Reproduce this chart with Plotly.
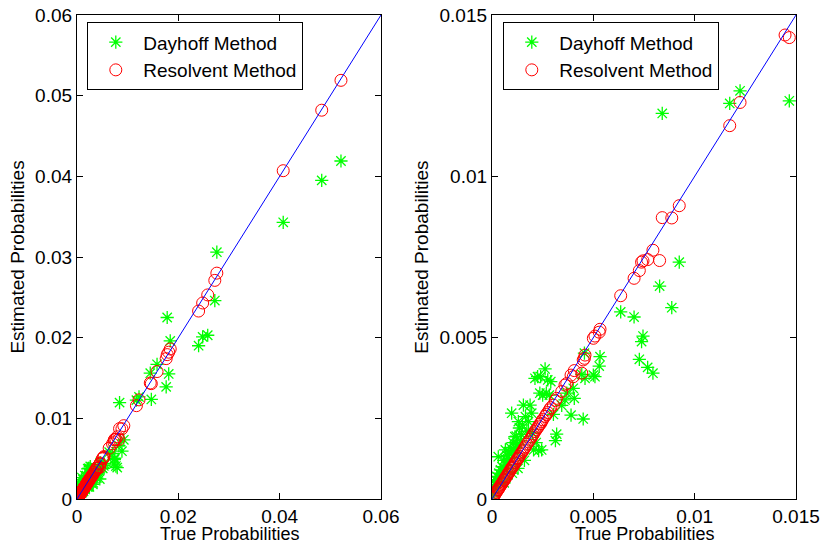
import plotly.graph_objects as go

# true probability, Dayhoff estimate, Resolvent estimate
true_p = [
    0.0521, 0.0483, 0.0407, 0.0276, 0.0272, 0.0258, 0.0248, 0.0240,
    0.0184, 0.0181, 0.0178, 0.0176, 0.0158, 0.01467, 0.01446,
    0.01224, 0.01173,
    0.00924, 0.00887, 0.00840, 0.00827, 0.00794, 0.00768, 0.00745, 0.00738,
    0.00727, 0.00701, 0.00635,
    0.00533, 0.00529, 0.00508, 0.00500, 0.00459, 0.00456, 0.00450, 0.00443,
    0.00406, 0.00401, 0.00390, 0.00369, 0.00360, 0.00344, 0.00319, 0.00313, 0.00303,
    0.00290, 0.00283, 0.00275, 0.00268, 0.00262, 0.00250, 0.00245, 0.00240,
    0.00236, 0.00230, 0.00225, 0.00218, 0.00212, 0.00205, 0.00200,
    0.00196, 0.00188, 0.00180, 0.00172, 0.00165, 0.00160, 0.00155, 0.00150,
    0.00145, 0.00140, 0.00135, 0.00130, 0.00128, 0.00125, 0.00120, 0.00115,
    0.00113, 0.00108, 0.00104, 0.00100, 0.00097, 0.00095, 0.00090, 0.00086,
    0.00082, 0.00078, 0.00074, 0.00070, 0.00066, 0.00062, 0.00060, 0.00058,
    0.00054, 0.00050, 0.00046, 0.00042, 0.00038, 0.00034, 0.00031, 0.00028,
    0.00024, 0.00020, 0.00016, 0.00012, 0.00008, 0.00005, 0.00002,
]
dayhoff_est = [
    0.0419, 0.0395, 0.0343, 0.0306, 0.0246, 0.0203, 0.0201, 0.0190,
    0.0196, 0.0155, 0.0225, 0.0139, 0.0167, 0.01234, 0.0156,
    0.01265, 0.01226,
    0.00734, 0.00593, 0.01195, 0.00660, 0.00390, 0.00408, 0.00505, 0.00488,
    0.00433, 0.00564, 0.00580,
    0.00441, 0.00412, 0.00379, 0.00384, 0.00374, 0.00452, 0.00248, 0.00386,
    0.00312, 0.00343, 0.00260, 0.00328, 0.00307, 0.00290, 0.00201, 0.00181, 0.00262,
    0.00364, 0.00322, 0.00369, 0.00328, 0.00403, 0.00322, 0.00152, 0.00379,
    0.00328, 0.00150, 0.00379, 0.00175, 0.00374, 0.00152, 0.00205,
    0.00266, 0.00291, 0.00240, 0.00210, 0.00255, 0.00120, 0.00291, 0.00230,
    0.00200, 0.00180, 0.00220, 0.00240, 0.00095, 0.00170, 0.00195, 0.00160,
    0.00193, 0.00150, 0.00175, 0.00080, 0.00266, 0.00140, 0.00160, 0.00125,
    0.00145, 0.00115, 0.00135, 0.00105, 0.00152, 0.00095, 0.00050, 0.00120,
    0.00085, 0.00100, 0.00075, 0.00090, 0.00065, 0.00080, 0.00131, 0.00055,
    0.00070, 0.00045, 0.00060, 0.00035, 0.00040, 0.00020, 0.00010,
]
resolvent_est = [
    0.0519, 0.0482, 0.0407, 0.0280, 0.0271, 0.0253, 0.0243, 0.0233,
    0.0186, 0.0182, 0.0179, 0.0174, 0.0158, 0.01430, 0.01438,
    0.01229, 0.01157,
    0.00909, 0.00871, 0.00872, 0.00739, 0.00771, 0.00742, 0.00738, 0.00734,
    0.00708, 0.00684, 0.00630,
    0.00526, 0.00517, 0.00505, 0.00498, 0.00446, 0.00436, 0.00431, 0.00390,
    0.00398, 0.00379, 0.00384, 0.00358, 0.00353, 0.00333, 0.00312, 0.00305, 0.00291,
    0.00283, 0.00276, 0.00268, 0.00262, 0.00256, 0.00246, 0.00240, 0.00234,
    0.00232, 0.00226, 0.00221, 0.00215, 0.00209, 0.00202, 0.00197,
    0.00192, 0.00185, 0.00177, 0.00170, 0.00162, 0.00158, 0.00152, 0.00147,
    0.00143, 0.00138, 0.00133, 0.00128, 0.00126, 0.00123, 0.00118, 0.00114,
    0.00111, 0.00106, 0.00102, 0.00099, 0.00096, 0.00094, 0.00089, 0.00085,
    0.00081, 0.00077, 0.00073, 0.00069, 0.00065, 0.00061, 0.00059, 0.00057,
    0.00053, 0.00049, 0.00045, 0.00042, 0.00037, 0.00034, 0.00030, 0.00028,
    0.00024, 0.00020, 0.00016, 0.00012, 0.00008, 0.00005, 0.00002,
]

left_ticks = [0, 0.01, 0.02, 0.03, 0.04, 0.05, 0.06]
left_ticktext = ["0", "0.01", "0.02", "0.03", "0.04", "0.05", "0.06"]
left_xticks = [0, 0.02, 0.04, 0.06]
left_xticktext = ["0", "0.02", "0.04", "0.06"]
right_ticks = [0, 0.005, 0.01, 0.015]
right_ticktext = ["0", "0.005", "0.01", "0.015"]
left_max = 0.06
right_max = 0.015
x_title = "True Probabilities"
y_title = "Estimated Probabilities"

FONT = "Liberation Sans, Arial, Helvetica, sans-serif"
W, H = 821, 544
fig = go.Figure()

for ax_x, ax_y, mx, leg in [("x", "y", left_max, "legend"),
                            ("x2", "y2", right_max, "legend2")]:
    fig.add_trace(go.Scatter(
        x=true_p, y=dayhoff_est, mode="markers", name="Dayhoff Method",
        xaxis=ax_x, yaxis=ax_y, legend=leg,
        marker=dict(symbol="asterisk-open", size=11, color="#00ff00",
                    line=dict(width=1.3, color="#00ff00"))))
    fig.add_trace(go.Scatter(
        x=true_p, y=resolvent_est, mode="markers", name="Resolvent Method",
        xaxis=ax_x, yaxis=ax_y, legend=leg,
        marker=dict(symbol="circle-open", size=12, color="#ff0000",
                    line=dict(width=1, color="#ff0000"))))
    fig.add_trace(go.Scatter(
        x=[0, mx], y=[0, mx], mode="lines", showlegend=False,
        xaxis=ax_x, yaxis=ax_y, line=dict(color="#0000ff", width=1)))

axis_common = dict(showline=True, linecolor="black", linewidth=1.3, mirror="ticks",
                   ticks="inside", ticklen=6, tickcolor="black", showgrid=False,
                   zeroline=False, automargin=False, ticklabeloverflow="allow",
                   tickfont=dict(family=FONT, size=19, color="black"))
title_font = dict(family=FONT, size=19, color="black")

y_dom = [45 / H, 529 / H]
left_dom = [77 / W, 381 / W]
right_dom = [492 / W, 796 / W]
fig.update_layout(
    width=W, height=H, margin=dict(l=0, r=0, t=0, b=0),
    paper_bgcolor="white", plot_bgcolor="white",
    font=dict(family=FONT, color="black"),
    xaxis=dict(domain=left_dom, range=[0, left_max], tickvals=left_xticks,
               ticktext=left_xticktext, anchor="y", **axis_common),
    yaxis=dict(domain=y_dom, range=[0, left_max], tickvals=left_ticks,
               ticktext=left_ticktext, anchor="x",
               title=dict(text=y_title, font=title_font, standoff=5), **axis_common),
    xaxis2=dict(domain=right_dom, range=[0, right_max], tickvals=right_ticks,
                ticktext=right_ticktext, anchor="y2", **axis_common),
    yaxis2=dict(domain=y_dom, range=[0, right_max], tickvals=right_ticks,
                ticktext=right_ticktext, anchor="x2",
                title=dict(text=y_title, font=title_font, standoff=5), **axis_common),
    legend=dict(x=87 / W, y=1 - 22 / H, xanchor="left", yanchor="top",
                bgcolor="white", bordercolor="black", borderwidth=1.3, itemwidth=45,
                font=dict(family=FONT, size=19, color="black"), tracegroupgap=0),
    legend2=dict(x=503 / W, y=1 - 22 / H, xanchor="left", yanchor="top",
                 bgcolor="white", bordercolor="black", borderwidth=1.3, itemwidth=45,
                 font=dict(family=FONT, size=19, color="black"), tracegroupgap=0),
    showlegend=True,
)
for dom in (left_dom, right_dom):
    fig.add_annotation(text=x_title, xref="paper", yref="paper",
                       x=(dom[0] + dom[1]) / 2, y=0, xanchor="center", yanchor="bottom",
                       showarrow=False, borderpad=0, yshift=-1,
                       font=dict(family=FONT, size=18, color="black"))

fig.write_html("out.html", config={"displayModeBar": False},
               post_script="document.body.style.margin='0';document.body.style.overflow='hidden';")
